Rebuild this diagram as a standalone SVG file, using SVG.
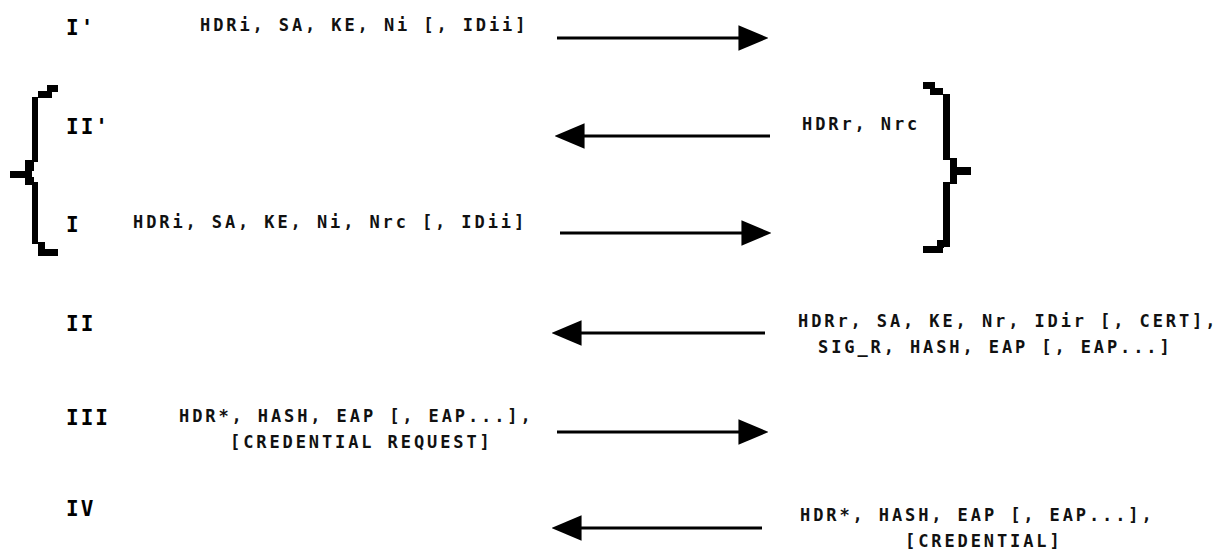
<svg xmlns="http://www.w3.org/2000/svg" width="1225" height="553" viewBox="0 0 1225 553">
  <style>
    .num { font-family: "DejaVu Sans Mono", "Liberation Mono", monospace; font-weight: bold; font-size: 21px; letter-spacing: 2px; fill: #000; }
    .msg { font-family: "DejaVu Sans Mono", "Liberation Mono", monospace; font-weight: bold; font-size: 17px; letter-spacing: 2.9px; fill: #111; }
    .arrow { stroke: #000; stroke-width: 3; fill: none; marker-end: url(#head); }
    .brace rect { fill: #000; }
  </style>
  <defs>
    <marker id="head" markerUnits="userSpaceOnUse" markerWidth="30" markerHeight="26" refX="8" refY="12" orient="auto" viewBox="0 0 28 24">
      <path d="M0,0 L28,12 L0,24 Z" fill="#000"/>
    </marker>
  </defs>
  <rect width="1225" height="553" fill="#fff"/>

  <!-- step labels -->
  <g id="step-I-prime">
    <text class="num" x="66" y="35">I'</text>
    <text class="msg" x="200" y="31">HDRi, SA, KE, Ni [, IDii]</text>
  </g>
  <g id="step-II-prime">
    <text class="num" x="66" y="134">II'</text>
    <text class="msg" x="802" y="130">HDRr, Nrc</text>
  </g>
  <g id="step-I">
    <text class="num" x="66" y="232">I</text>
    <text class="msg" x="133" y="228">HDRi, SA, KE, Ni, Nrc [, IDii]</text>
  </g>
  <g id="step-II">
    <text class="num" x="66" y="331">II</text>
    <text class="msg" x="798" y="327">HDRr, SA, KE, Nr, IDir [, CERT],</text>
    <text class="msg" x="818" y="353">SIG_R, HASH, EAP [, EAP...]</text>
  </g>
  <g id="step-III">
    <text class="num" x="66" y="425">III</text>
    <text class="msg" x="179" y="422">HDR*, HASH, EAP [, EAP...],</text>
    <text class="msg" x="230" y="448">[CREDENTIAL REQUEST]</text>
  </g>
  <g id="step-IV">
    <text class="num" x="66" y="516">IV</text>
    <text class="msg" x="800" y="521">HDR*, HASH, EAP [, EAP...],</text>
    <text class="msg" x="905" y="547">[CREDENTIAL]</text>
  </g>

  <!-- curly braces grouping II' and I -->
  <g id="brace-left" class="brace">
    <rect x="47" y="85" width="11" height="7"/>
    <rect x="38" y="91" width="14" height="7"/>
    <rect x="32" y="97" width="6" height="65"/>
    <rect x="25" y="160" width="9" height="11"/>
    <rect x="10" y="171" width="22" height="7"/>
    <rect x="25" y="177" width="9" height="8"/>
    <rect x="32" y="182" width="6" height="62"/>
    <rect x="38" y="242" width="7" height="8"/>
    <rect x="38" y="249" width="20" height="7"/>
  </g>
  <g id="brace-right" class="brace">
    <rect x="923" y="82" width="12" height="7"/>
    <rect x="930" y="88" width="13" height="7"/>
    <rect x="943" y="94" width="7" height="66"/>
    <rect x="950" y="158" width="7" height="10"/>
    <rect x="950" y="167" width="21" height="8"/>
    <rect x="950" y="174" width="7" height="10"/>
    <rect x="943" y="182" width="7" height="65"/>
    <rect x="937" y="240" width="7" height="8"/>
    <rect x="923" y="246" width="20" height="7"/>
  </g>

  <!-- message arrows -->
  <g id="connectors">
    <line class="arrow" x1="557" y1="38" x2="747" y2="38"/>
    <line class="arrow" x1="770" y1="136" x2="576" y2="136"/>
    <line class="arrow" x1="560" y1="233" x2="750" y2="233"/>
    <line class="arrow" x1="765" y1="333" x2="573" y2="333"/>
    <line class="arrow" x1="557" y1="432" x2="747" y2="432"/>
    <line class="arrow" x1="762" y1="528" x2="573" y2="528"/>
  </g>
</svg>
